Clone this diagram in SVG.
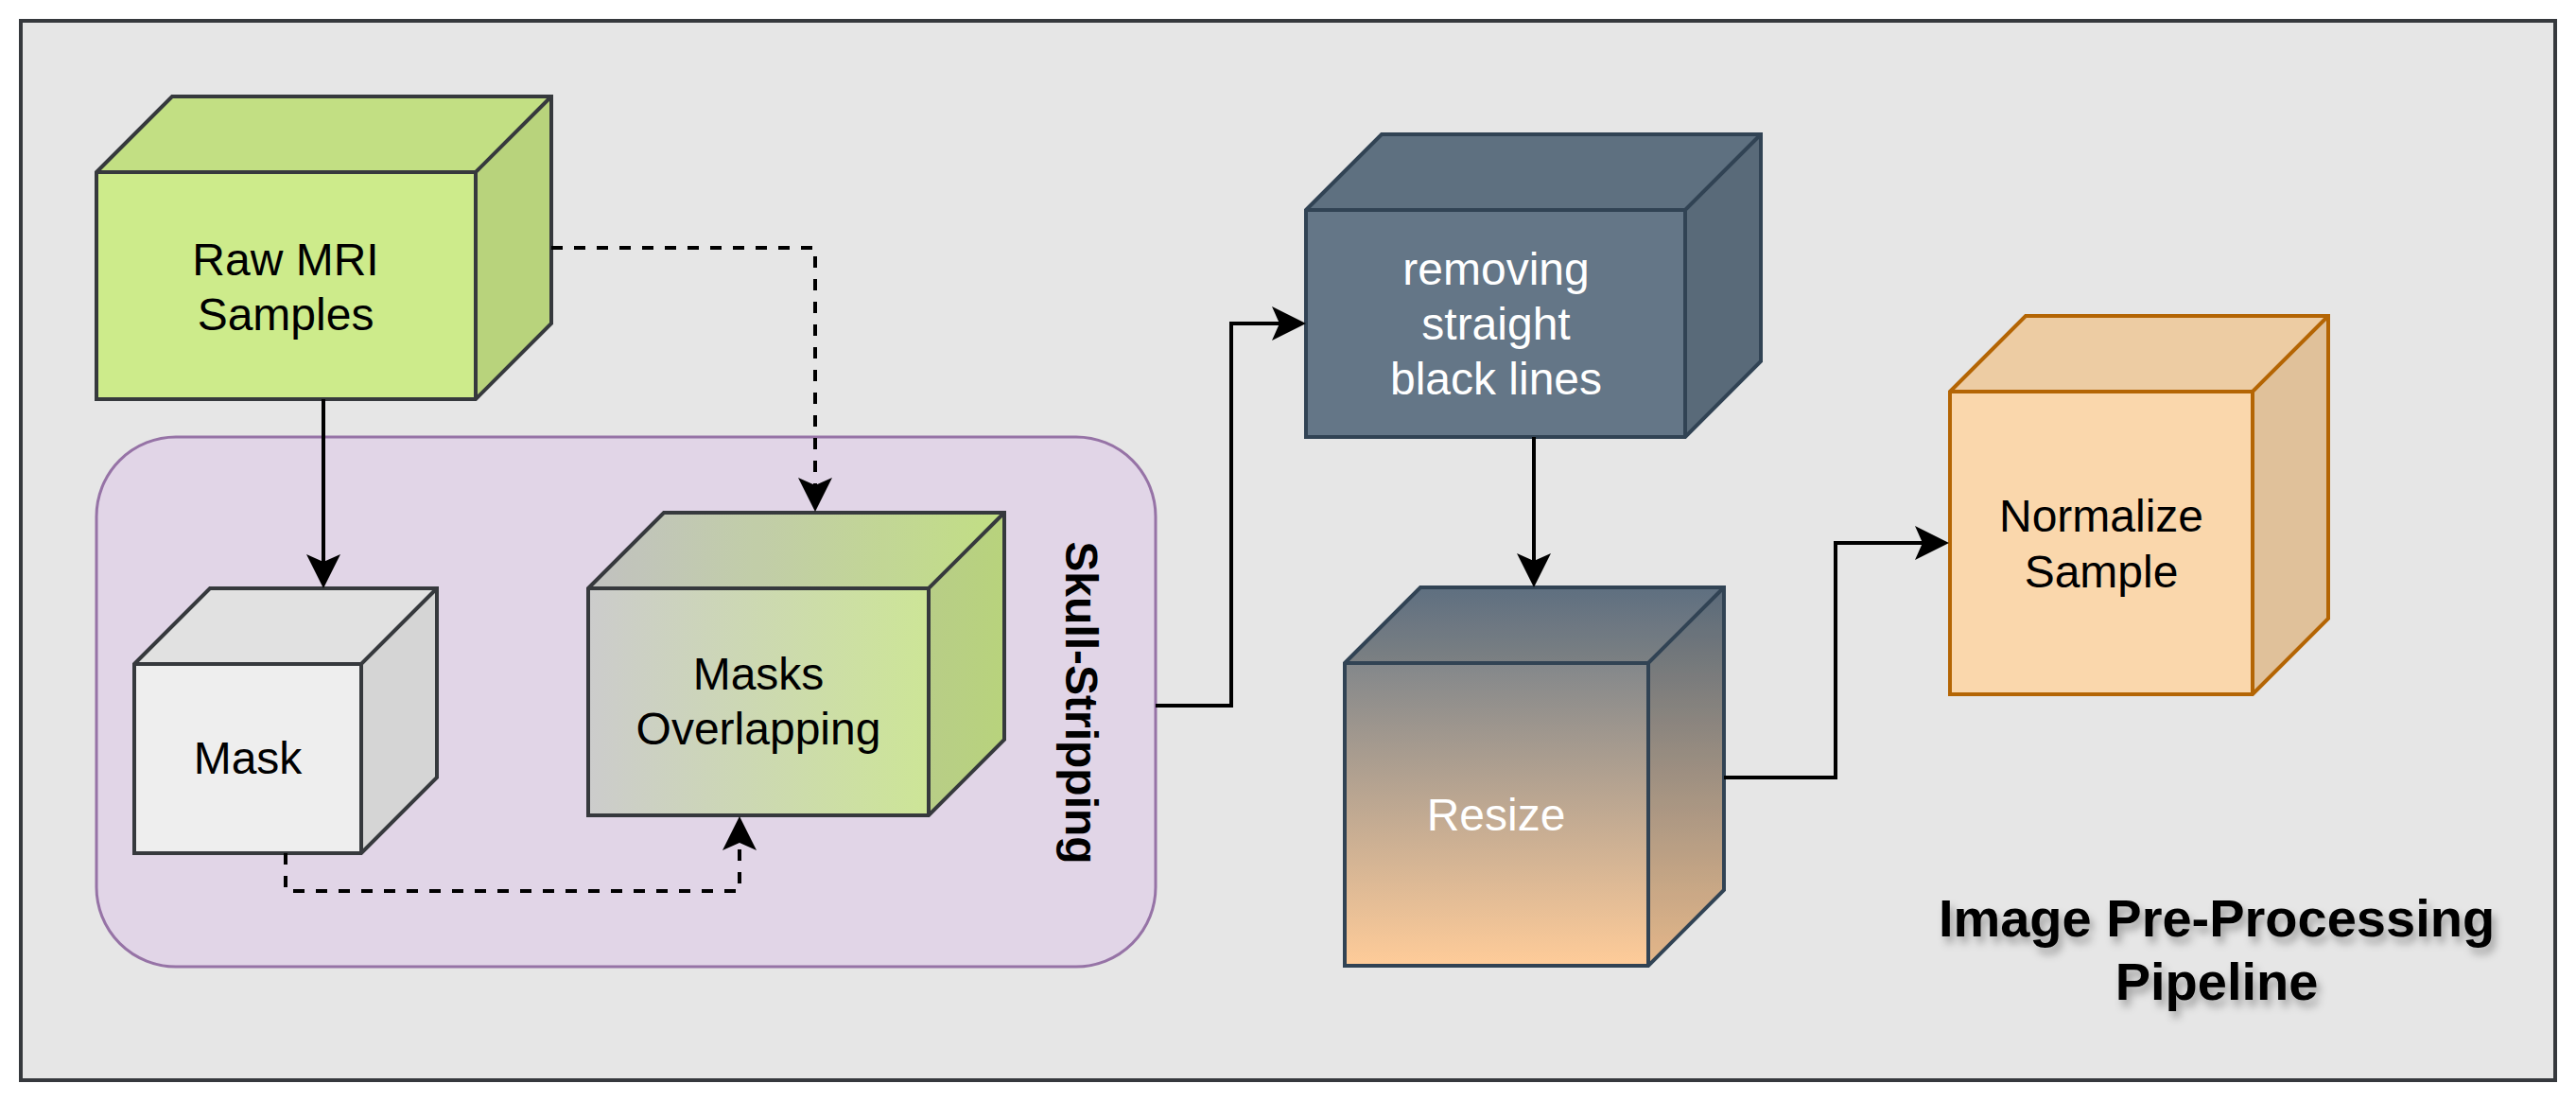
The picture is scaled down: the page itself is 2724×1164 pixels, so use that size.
<svg xmlns="http://www.w3.org/2000/svg" width="2724" height="1164" viewBox="0 0 2724 1164">
<defs>
<style>
.lbl{font-family:"Liberation Sans",Arial,Helvetica,sans-serif;font-size:48px;text-anchor:middle;fill:#000}
.w{fill:#ffffff}
.bold{font-weight:bold}
.edge{fill:none;stroke:#000;stroke-width:4;stroke-linejoin:miter}
.dash{stroke-dasharray:12 12}
.dk5{fill:#000;fill-opacity:0.05;stroke:none}
.dk10{fill:#000;fill-opacity:0.1;stroke:none}
.ol{fill:none;stroke-width:4;stroke-linejoin:miter}
</style>
<marker id="arr" markerUnits="userSpaceOnUse" viewBox="0 0 36 36" refX="8" refY="18" markerWidth="36" markerHeight="36" orient="auto">
<path d="M0,0 L36,18 L0,36 L8,18 Z" fill="#000"/>
</marker>
<linearGradient id="gOver" gradientUnits="userSpaceOnUse" x1="622" y1="0" x2="1062" y2="0">
<stop offset="0" stop-color="#cccccc"/>
<stop offset="1" stop-color="#cdeb8b"/>
</linearGradient>
<linearGradient id="gResize" gradientUnits="userSpaceOnUse" x1="0" y1="621" x2="0" y2="1021">
<stop offset="0" stop-color="#647687"/>
<stop offset="1" stop-color="#ffcc99"/>
</linearGradient>
<filter id="ts" x="-10%" y="-40%" width="125%" height="190%">
<feDropShadow dx="4" dy="7" stdDeviation="4" flood-color="#000" flood-opacity="0.3"/>
</filter>
</defs>

<rect x="22" y="22" width="2680" height="1120" fill="#e6e6e6" stroke="#36393d" stroke-width="4"/>

<g id="skull-stripping">
<rect x="102" y="462" width="1120" height="560" rx="84" ry="84" fill="#e1d5e7" stroke="#9673a6" stroke-width="3"/>
<text class="lbl bold" transform="translate(1127,743) rotate(90)">Skull-Stripping</text>
</g>

<g id="raw-mri">
<polygon points="102,182 503,182 503,422 102,422" fill="#cdeb8b"/>
<polygon points="102,182 182,102 583,102 503,182" fill="#cdeb8b"/>
<polygon points="503,182 583,102 583,342 503,422" fill="#cdeb8b"/>
<polygon class="dk5" points="102,182 182,102 583,102 503,182"/>
<polygon class="dk10" points="503,182 583,102 583,342 503,422"/>
<path class="ol" stroke="#36393d" d="M102,182 L182,102 L583,102 L583,342 L503,422 L102,422 Z M102,182 L503,182 L583,102 M503,182 L503,422"/>
<text class="lbl" x="302" y="291">Raw MRI</text>
<text class="lbl" x="302" y="349">Samples</text>
</g>

<g id="mask">
<polygon points="142,702 382,702 382,902 142,902" fill="#eeeeee"/>
<polygon points="142,702 222,622 462,622 382,702" fill="#eeeeee"/>
<polygon points="382,702 462,622 462,822 382,902" fill="#eeeeee"/>
<polygon class="dk5" points="142,702 222,622 462,622 382,702"/>
<polygon class="dk10" points="382,702 462,622 462,822 382,902"/>
<path class="ol" stroke="#36393d" d="M142,702 L222,622 L462,622 L462,822 L382,902 L142,902 Z M142,702 L382,702 L462,622 M382,702 L382,902"/>
<text class="lbl" x="262" y="818">Mask</text>
</g>

<g id="masks-overlapping">
<polygon points="622,622 982,622 982,862 622,862" fill="url(#gOver)"/>
<polygon points="622,622 702,542 1062,542 982,622" fill="url(#gOver)"/>
<polygon points="982,622 1062,542 1062,782 982,862" fill="url(#gOver)"/>
<polygon class="dk5" points="622,622 702,542 1062,542 982,622"/>
<polygon class="dk10" points="982,622 1062,542 1062,782 982,862"/>
<path class="ol" stroke="#36393d" d="M622,622 L702,542 L1062,542 L1062,782 L982,862 L622,862 Z M622,622 L982,622 L1062,542 M982,622 L982,862"/>
<text class="lbl" x="802" y="729">Masks</text>
<text class="lbl" x="802" y="787">Overlapping</text>
</g>

<g id="removing-lines">
<polygon points="1381,222 1782,222 1782,462 1381,462" fill="#647687"/>
<polygon points="1381,222 1461,142 1862,142 1782,222" fill="#647687"/>
<polygon points="1782,222 1862,142 1862,382 1782,462" fill="#647687"/>
<polygon class="dk5" points="1381,222 1461,142 1862,142 1782,222"/>
<polygon class="dk10" points="1782,222 1862,142 1862,382 1782,462"/>
<path class="ol" stroke="#314354" d="M1381,222 L1461,142 L1862,142 L1862,382 L1782,462 L1381,462 Z M1381,222 L1782,222 L1862,142 M1782,222 L1782,462"/>
<text class="lbl w" x="1582" y="301">removing</text>
<text class="lbl w" x="1582" y="359">straight</text>
<text class="lbl w" x="1582" y="417">black lines</text>
</g>

<g id="resize">
<polygon points="1422,701 1743,701 1743,1021 1422,1021" fill="url(#gResize)"/>
<polygon points="1422,701 1502,621 1823,621 1743,701" fill="url(#gResize)"/>
<polygon points="1743,701 1823,621 1823,941 1743,1021" fill="url(#gResize)"/>
<polygon class="dk5" points="1422,701 1502,621 1823,621 1743,701"/>
<polygon class="dk10" points="1743,701 1823,621 1823,941 1743,1021"/>
<path class="ol" stroke="#314354" d="M1422,701 L1502,621 L1823,621 L1823,941 L1743,1021 L1422,1021 Z M1422,701 L1743,701 L1823,621 M1743,701 L1743,1021"/>
<text class="lbl w" x="1582" y="878">Resize</text>
</g>

<g id="normalize">
<polygon points="2062,414 2382,414 2382,734 2062,734" fill="#fad7ac"/>
<polygon points="2062,414 2142,334 2462,334 2382,414" fill="#fad7ac"/>
<polygon points="2382,414 2462,334 2462,654 2382,734" fill="#fad7ac"/>
<polygon class="dk5" points="2062,414 2142,334 2462,334 2382,414"/>
<polygon class="dk10" points="2382,414 2462,334 2462,654 2382,734"/>
<path class="ol" stroke="#b46504" d="M2062,414 L2142,334 L2462,334 L2462,654 L2382,734 L2062,734 Z M2062,414 L2382,414 L2462,334 M2382,414 L2382,734"/>
<text class="lbl" x="2222" y="562">Normalize</text>
<text class="lbl" x="2222" y="621">Sample</text>
</g>

<g id="title" filter="url(#ts)">
<text class="lbl bold" style="font-size:56px" x="2344" y="990">Image Pre-Processing</text>
<text class="lbl bold" style="font-size:56px" x="2344" y="1057">Pipeline</text>
</g>

<g id="connectors">
<path class="edge" marker-end="url(#arr)" d="M342,422 L342,594"/>
<path class="edge dash" marker-end="url(#arr)" d="M583,262 L862,262 L862,513"/>
<path class="edge dash" marker-end="url(#arr)" d="M302,902 L302,942 L782,942 L782,891"/>
<path class="edge" marker-end="url(#arr)" d="M1222,746 L1302,746 L1302,342 L1353,342"/>
<path class="edge" marker-end="url(#arr)" d="M1622,462 L1622,593"/>
<path class="edge" marker-end="url(#arr)" d="M1823,822 L1941,822 L1941,574 L2033,574"/>
</g>
</svg>
